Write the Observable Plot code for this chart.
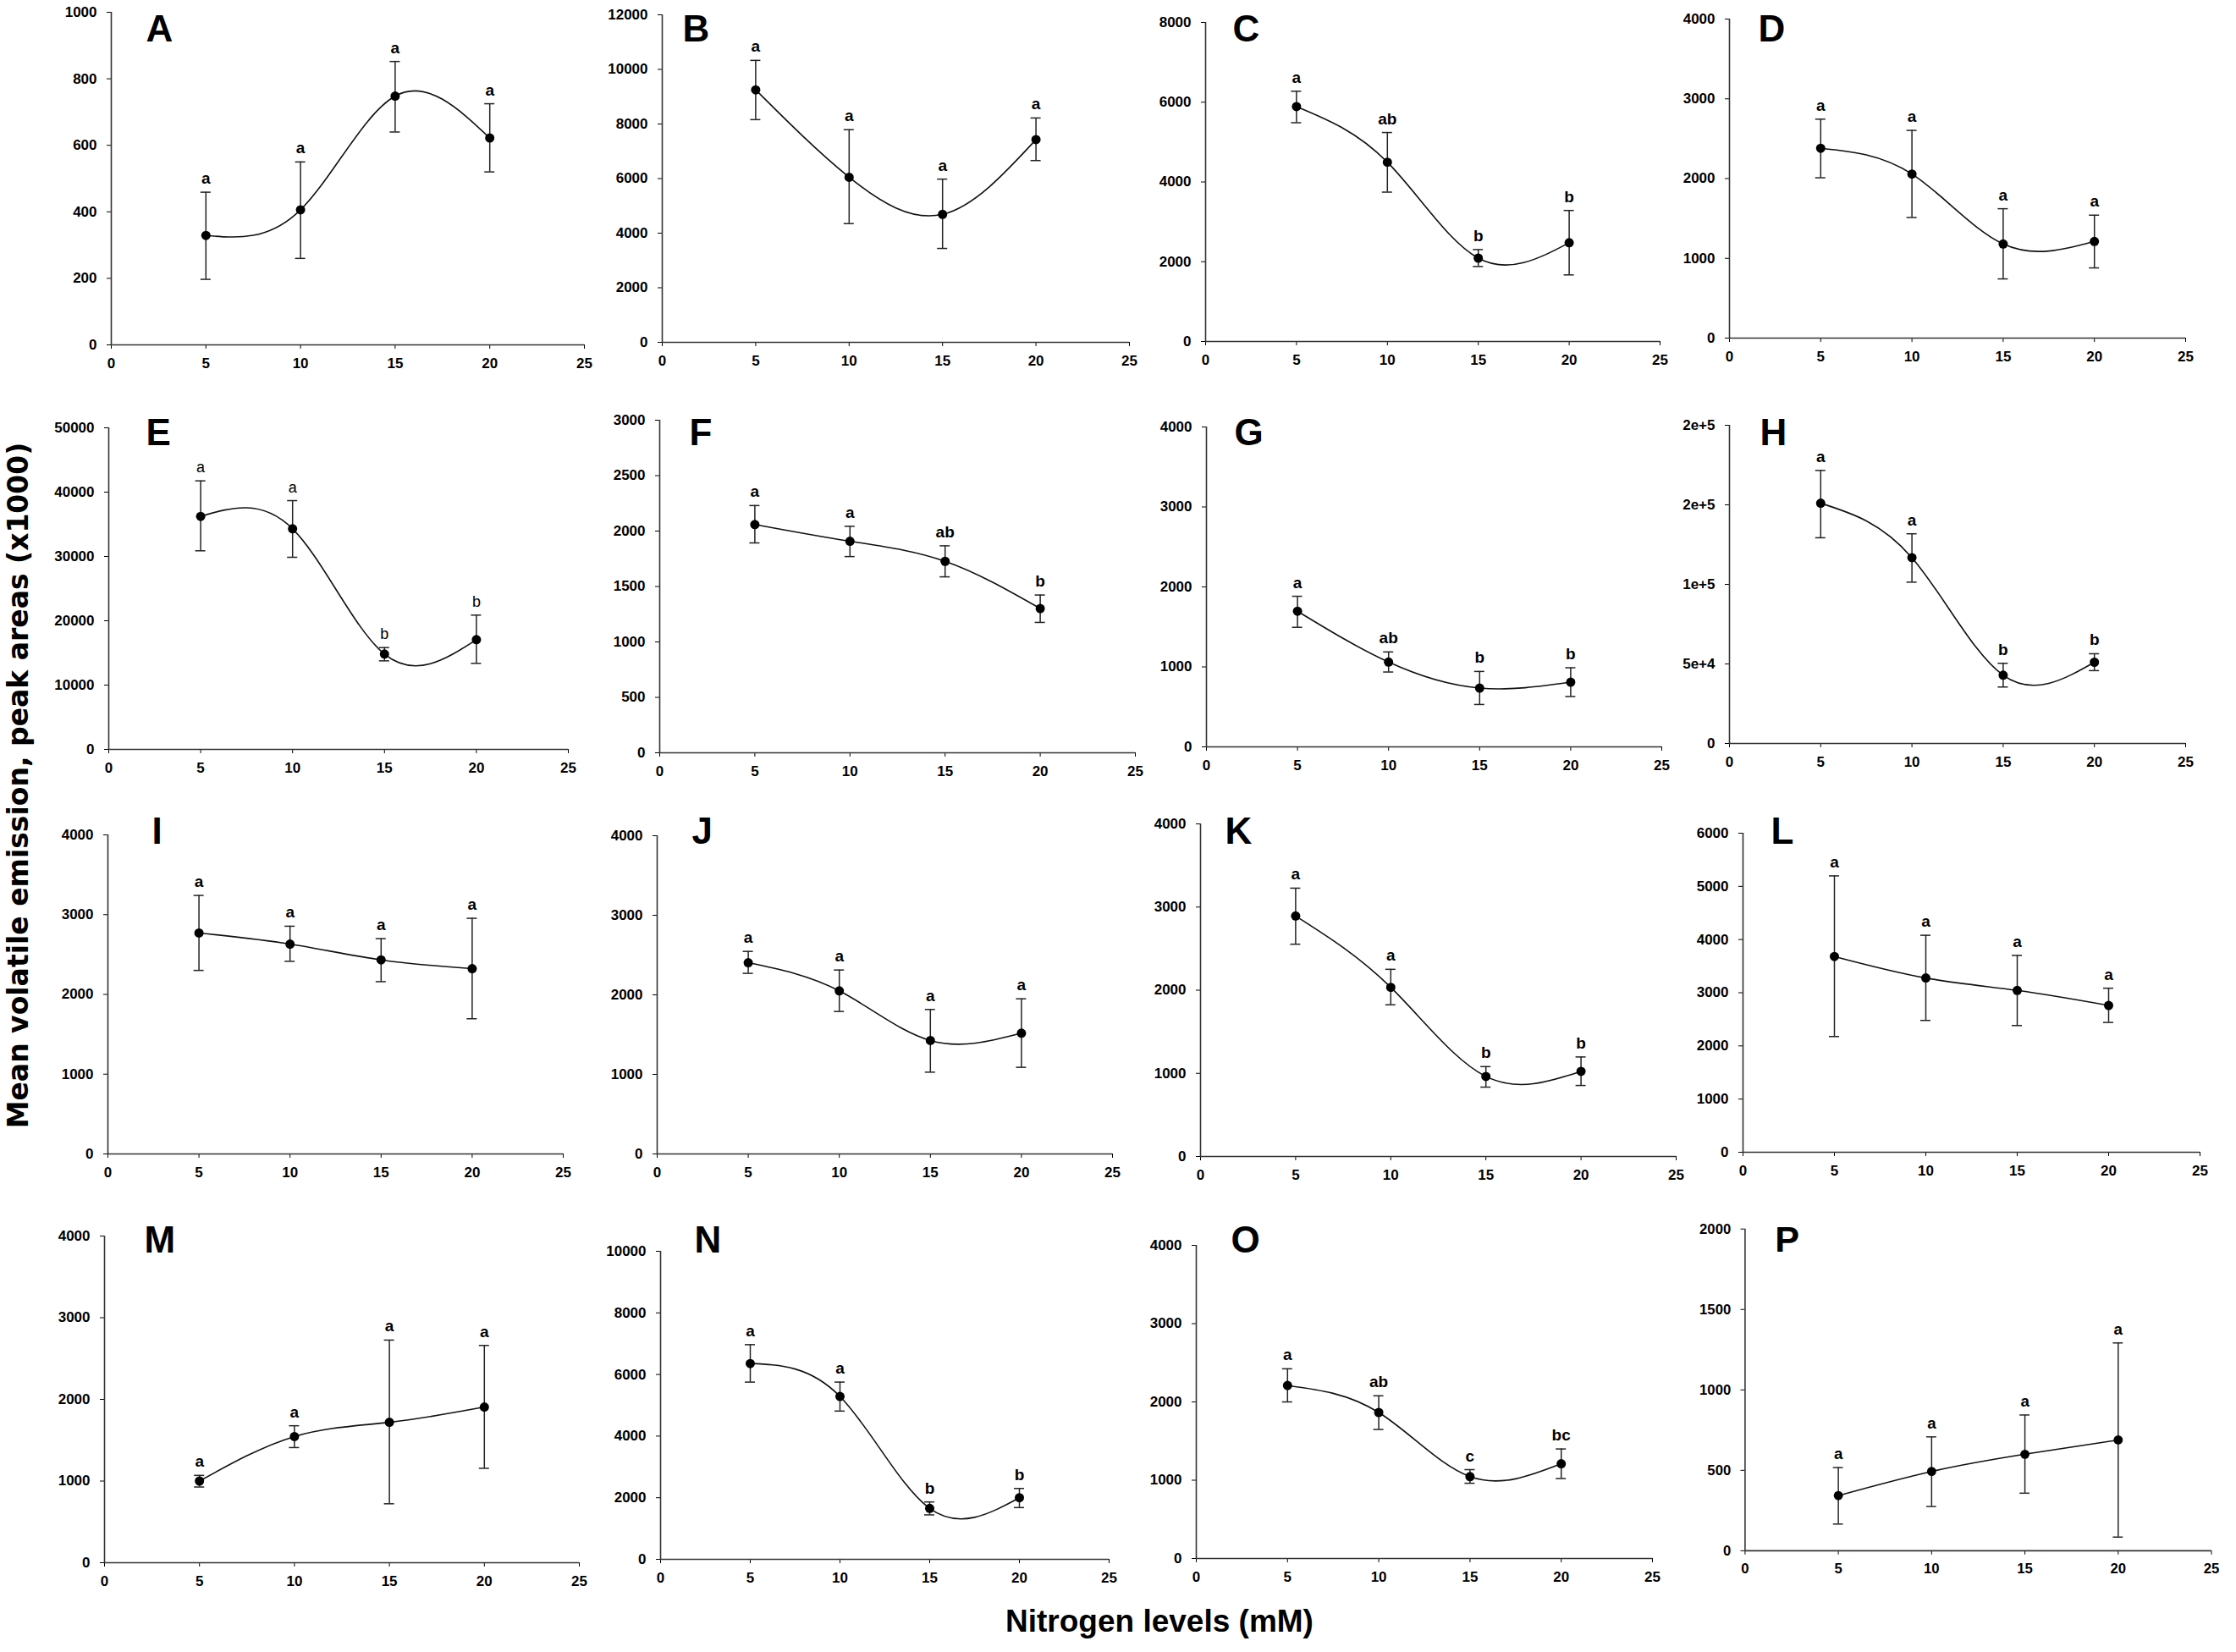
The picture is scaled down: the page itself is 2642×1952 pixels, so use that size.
<!DOCTYPE html>
<html>
<head>
<meta charset="utf-8">
<script src="https://cdn.jsdelivr.net/npm/d3@7"></script>
<script src="https://cdn.jsdelivr.net/npm/@observablehq/plot@0.6"></script>
<style>
  html, body { margin: 0; padding: 0; background: #fff; }
  #fig { position: relative; width: 2642px; height: 1952px; background: #fff; overflow: hidden;
         font-family: "Liberation Sans", Arial, sans-serif; color: #000; }
  .panel { position: absolute; }
  .title { position: absolute; font-weight: bold; white-space: nowrap; }
  #ytitle { font-family: "DejaVu Sans", sans-serif; font-size: 33px; line-height: 33px; }
  #xtitle { font-family: "Liberation Sans", Arial, sans-serif; font-size: 37px; line-height: 37px; }
</style>
</head>
<body>
<div id="fig"></div>
<script>
// ---------------- DATA ----------------
const nitrogen = [5, 10, 15, 20];
const xTicks = [0, 5, 10, 15, 20, 25];
const panelNames = ["A","B","C","D","E","F","G","H","I","J","K","L","M","N","O","P"];

const meanA = [329, 406, 748, 622];    const lowA = [197, 260, 640, 520];    const highA = [459, 550, 852, 725];    const sigA = ["a","a","a","a"];
const meanB = [9250, 6050, 4690, 7430]; const lowB = [8160, 4350, 3440, 6660]; const highB = [10330, 7790, 5980, 8220]; const sigB = ["a","a","a","a"];
const meanC = [5890, 4495, 2090, 2475]; const lowC = [5485, 3745, 1880, 1670]; const highC = [6275, 5240, 2305, 3285]; const sigC = ["a","ab","b","b"];
const meanD = [2380, 2057, 1180, 1212]; const lowD = [2010, 1512, 742, 880];   const highD = [2745, 2604, 1622, 1541]; const sigD = ["a","a","a","a"];
const meanE = [36230, 34300, 14820, 17060]; const lowE = [30880, 29870, 13770, 13380]; const highE = [41750, 38680, 15830, 20880]; const sigE = ["a","a","b","b"];
const meanF = [2059, 1908, 1727, 1301]; const lowF = [1893, 1770, 1587, 1176]; const highF = [2230, 2043, 1867, 1423]; const sigF = ["a","a","ab","b"];
const meanG = [1696, 1060, 735, 809];   const lowG = [1495, 936, 530, 629];    const highG = [1883, 1187, 943, 989];   const sigG = ["a","ab","b","b"];
const meanH = [151000, 116800, 42900, 51060]; const lowH = [129300, 101400, 35500, 45800]; const highH = [171600, 131800, 50400, 56400]; const sigH = ["a","a","b","b"];
const meanI = [2770, 2631, 2433, 2323]; const lowI = [2301, 2415, 2160, 1695]; const highI = [3241, 2855, 2699, 2954]; const sigI = ["a","a","a","a"];
const meanJ = [2404, 2050, 1426, 1518]; const lowJ = [2270, 1791, 1028, 1089]; const highJ = [2546, 2312, 1816, 1950]; const sigJ = ["a","a","a","a"];
const meanK = [2892, 2034, 963, 1024];  const lowK = [2553, 1824, 834, 854];   const highK = [3227, 2251, 1081, 1197]; const sigK = ["a","a","b","b"];
const meanL = [3681, 3277, 3043, 2761]; const lowL = [2176, 2479, 2383, 2441]; const highL = [5197, 4080, 3702, 3085]; const sigL = ["a","a","a","a"];
const meanM = [1000, 1545, 1719, 1906]; const lowM = [927, 1410, 722, 1156];   const highM = [1069, 1677, 2726, 2660]; const sigM = ["a","a","a","a"];
const meanN = [6356, 5288, 1653, 2000]; const lowN = [5753, 4813, 1443, 1680]; const highN = [6968, 5753, 1863, 2301]; const sigN = ["a","a","b","b"];
const meanO = [2210, 1865, 1046, 1210]; const lowO = [2000, 1648, 961, 1021];  const highO = [2423, 2078, 1135, 1399]; const sigO = ["a","ab","c","bc"];
const meanP = [343, 493, 600, 689];     const lowP = [166, 275, 358, 85];      const highP = [517, 708, 844, 1292];    const sigP = ["a","a","a","a"];

const yMax  = [1000, 12000, 8000, 4000, 50000, 3000, 4000, 200000, 4000, 4000, 4000, 6000, 4000, 10000, 4000, 2000];
const yStep = [200, 2000, 2000, 1000, 10000, 500, 1000, 50000, 1000, 1000, 1000, 1000, 1000, 2000, 1000, 500];
const hTickLabels = ["0", "5e+4", "1e+5", "2e+5", "2e+5"];

const yTitle = "Mean volatile emission, peak areas (x1000)";
const xTitle = "Nitrogen levels (mM)";

// ---------------- LAYOUT (pixels) ----------------
// [left axis x, right end x (x=25), top tick y, zero y]
const frames = [
  [131, 690, 14, 407], [782, 1334, 17, 404], [1424, 1961, 26, 403], [2043, 2582, 22, 399],
  [128, 671, 505, 885], [779, 1341, 496, 889], [1425, 1963, 504, 882], [2043, 2582, 502, 878],
  [127, 665, 986, 1363], [776, 1314, 987, 1363], [1418, 1980, 973, 1366], [2059, 2599, 984, 1361],
  [123, 684, 1460, 1846], [780, 1310, 1478, 1842], [1413, 1952, 1471, 1841], [2063, 2624, 1452, 1839]
];
const letterTopByRow = [17, 494, 965, 1448];
const letterDx = [41, 24, 32, 34, 44, 35, 33, 36, 52, 41, 29, 33, 47, 40, 41, 36];

const FONT = '"Liberation Sans", Arial, sans-serif';
const fig = document.getElementById("fig");

const series = {
  A:[meanA,lowA,highA,sigA], B:[meanB,lowB,highB,sigB], C:[meanC,lowC,highC,sigC], D:[meanD,lowD,highD,sigD],
  E:[meanE,lowE,highE,sigE], F:[meanF,lowF,highF,sigF], G:[meanG,lowG,highG,sigG], H:[meanH,lowH,highH,sigH],
  I:[meanI,lowI,highI,sigI], J:[meanJ,lowJ,highJ,sigJ], K:[meanK,lowK,highK,sigK], L:[meanL,lowL,highL,sigL],
  M:[meanM,lowM,highM,sigM], N:[meanN,lowN,highN,sigN], O:[meanO,lowO,highO,sigO], P:[meanP,lowP,highP,sigP]
};

panelNames.forEach((name, i) => {
  const [mean, low, high, sig] = series[name];
  const rows = nitrogen.map((n, k) => ({n, mean: mean[k], lo: low[k], hi: high[k], sig: sig[k]}));
  const [L, R, T, B] = frames[i];
  const row = Math.floor(i / 4);
  const letterTop = letterTopByRow[row];
  const svgTop = Math.min(T, letterTop) - 12;
  const ml = 90, mr = 30, mb = 50;
  const mt = T - svgTop;
  const width = (R - L) + ml + mr;
  const height = (B - svgTop) + mb;
  const yTicks = d3.range(0, yMax[i] + yStep[i] / 2, yStep[i]);
  const tickFormat = name === "H" ? (d => hTickLabels[yTicks.indexOf(d)]) : (d => String(d));
  const sigWeight = name === "E" ? "normal" : "bold";
  const sigSize = name === "E" ? 18 : 19;

  const chart = Plot.plot({
    width, height,
    marginLeft: ml, marginRight: mr, marginTop: mt, marginBottom: mb,
    style: {fontFamily: FONT, fontSize: "17px", fontWeight: "bold", color: "#000", background: "transparent", overflow: "visible"},
    x: {domain: [0, 25], ticks: xTicks, tickSize: 5, tickPadding: 10, label: null, tickFormat: d => String(d)},
    y: {domain: [0, yMax[i]], ticks: yTicks, tickSize: 5, tickPadding: 12, label: null, tickFormat},
    marks: [
      Plot.ruleY([0], {stroke: "#333", strokeWidth: 1.6}),
      Plot.ruleX([0], {stroke: "#333", strokeWidth: 1.6}),
      Plot.ruleX(rows, {x: "n", y1: "lo", y2: "hi", stroke: "#222", strokeWidth: 1.5}),
      Plot.ruleY(rows, {x1: "n", x2: "n", y: "hi", insetLeft: -6, insetRight: -6, stroke: "#222", strokeWidth: 1.5}),
      Plot.ruleY(rows, {x1: "n", x2: "n", y: "lo", insetLeft: -6, insetRight: -6, stroke: "#222", strokeWidth: 1.5}),
      Plot.line(rows, {x: "n", y: "mean", curve: "natural", stroke: "#111", strokeWidth: 1.6}),
      Plot.dot(rows, {x: "n", y: "mean", r: 5.5, fill: "#000", stroke: "none"}),
      Plot.text(rows, {x: "n", y: "hi", text: "sig", dy: -10, lineAnchor: "bottom", textAnchor: "middle",
                       fontSize: sigSize, fontWeight: sigWeight, fill: "#000"}),
      Plot.text([name], {frameAnchor: "top-left", text: d => d, dx: letterDx[i], dy: letterTop - T,
                         lineAnchor: "top", textAnchor: "start", fontSize: 44, fontWeight: "bold", fill: "#000"})
    ]
  });
  const holder = document.createElement("div");
  holder.className = "panel";
  holder.style.left = (L - ml) + "px";
  holder.style.top = svgTop + "px";
  holder.appendChild(chart);
  fig.appendChild(holder);
});

// Axis titles
const yt = document.createElement("div");
yt.className = "title";
yt.id = "ytitle";
yt.textContent = yTitle;
yt.style.left = "21px";
yt.style.top = "928px";
yt.style.transform = "translate(-50%, -50%) rotate(-90deg)";
fig.appendChild(yt);

const xt = document.createElement("div");
xt.className = "title";
xt.id = "xtitle";
xt.textContent = xTitle;
xt.style.left = "1370px";
xt.style.top = "1897px";
xt.style.transform = "translateX(-50%)";
fig.appendChild(xt);
</script>
</body>
</html>
